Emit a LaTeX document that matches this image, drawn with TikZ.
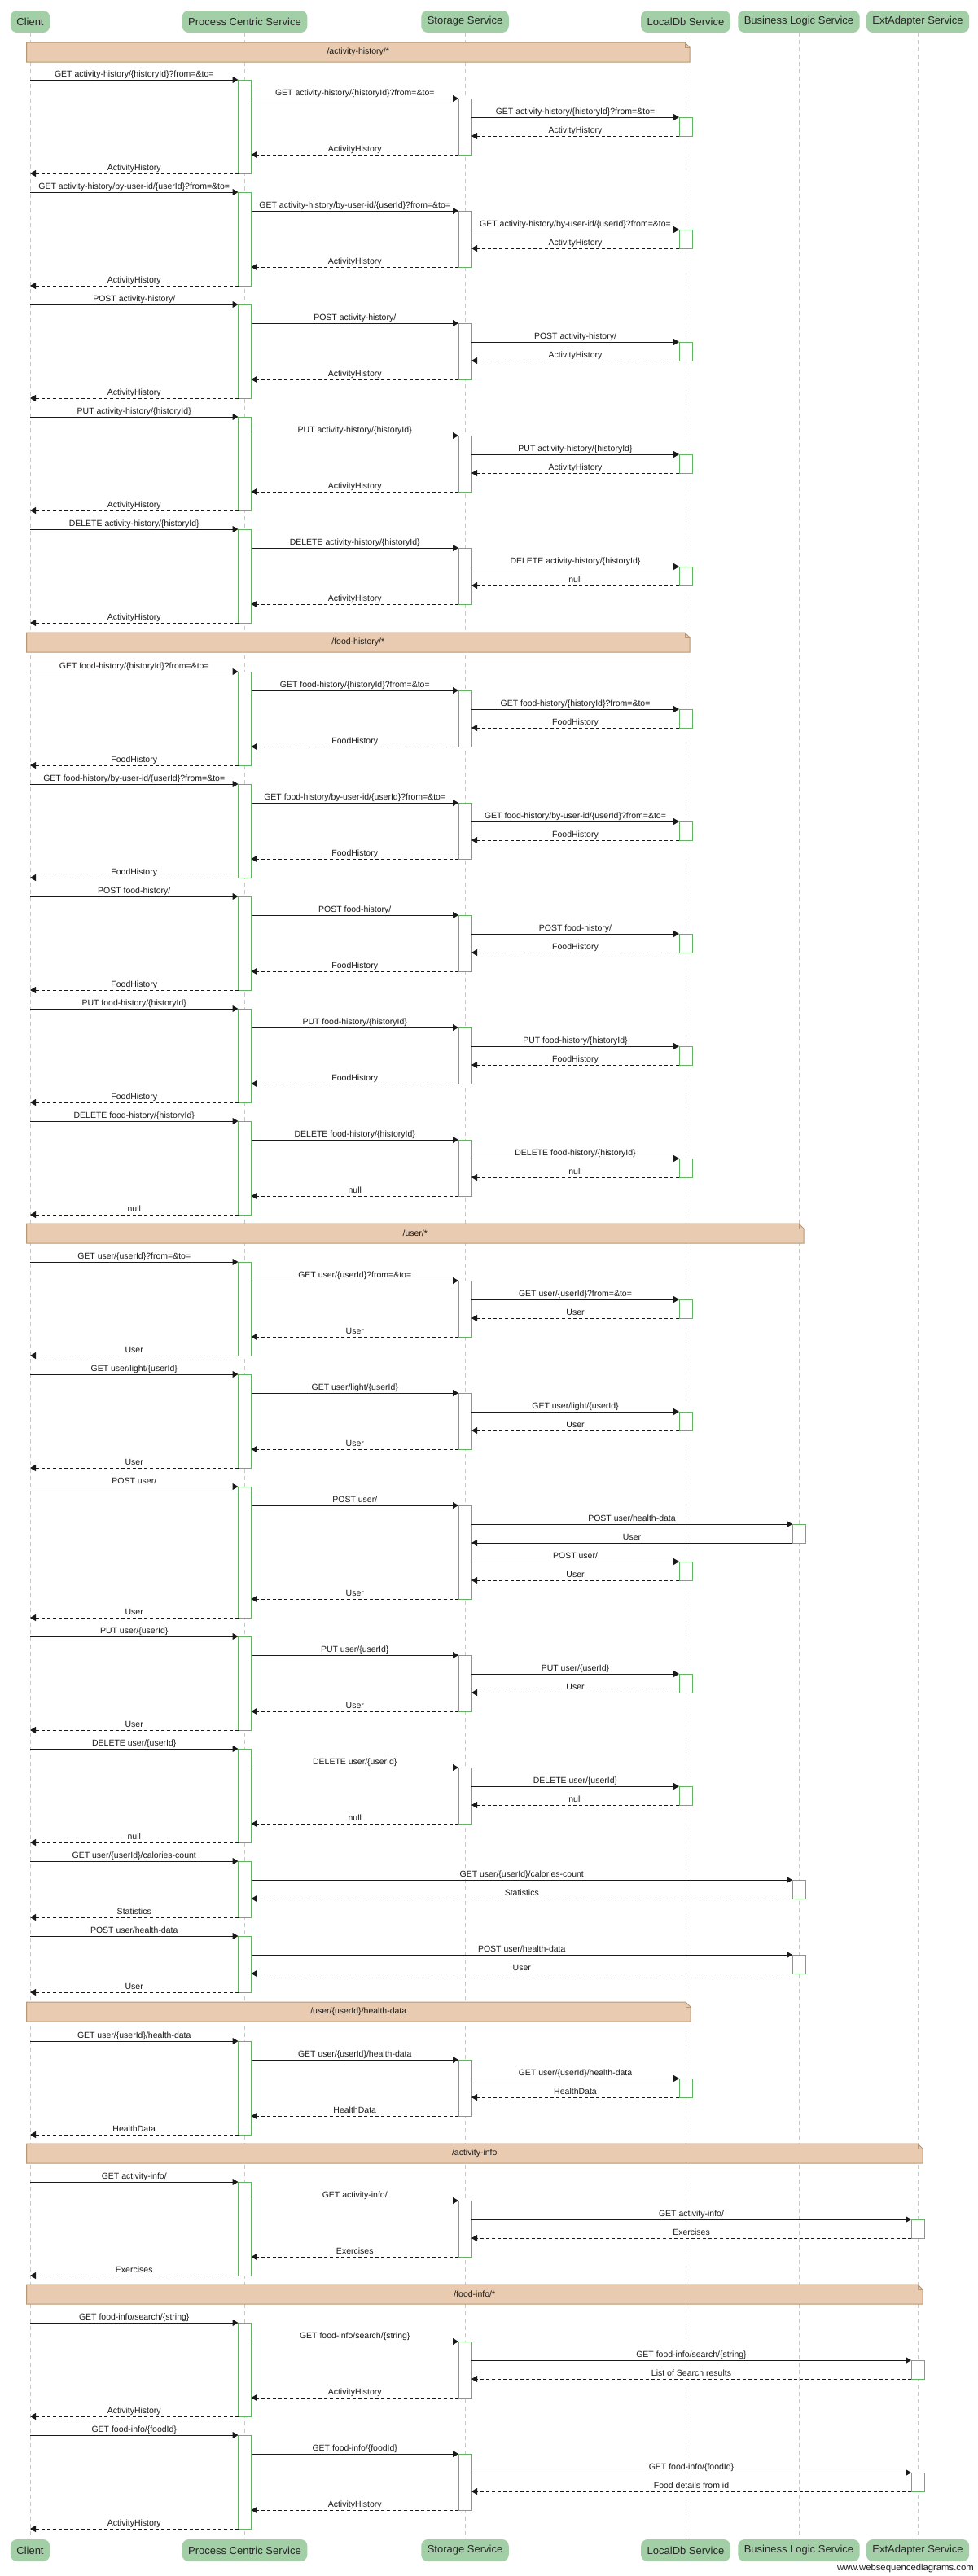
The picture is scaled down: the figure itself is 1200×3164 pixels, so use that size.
\documentclass[tikz,border=0pt]{standalone}
\usepackage{fontspec}
\setmainfont{Liberation Sans}
\usetikzlibrary{arrows.meta}
\definecolor{hdrfill}{RGB}{162,207,166}
\definecolor{hdrtext}{RGB}{40,40,40}
\definecolor{actgreen}{RGB}{98,180,98}
\definecolor{lifegray}{RGB}{200,200,200}
\definecolor{notefill}{RGB}{232,203,176}
\definecolor{notedraw}{RGB}{184,152,116}
\definecolor{msgcol}{RGB}{25,25,25}
\tikzset{
 hdr/.style={rounded corners=8pt, fill=hdrfill, minimum height=27pt, inner xsep=7.5pt, inner ysep=0pt, font=\fontsize{13pt}{15pt}\selectfont, text=hdrtext},
 lifeline/.style={draw=lifegray, line width=0.8pt, dash pattern=on 5pt off 4pt},
 actbox/.style={draw=actgreen, fill=white, line width=1pt, minimum width=16pt, inner sep=0pt, outer sep=0pt},
 callarrow/.style={draw=msgcol, line width=1pt, -{Triangle[length=7pt,width=8pt]}},
 retarrow/.style={draw=msgcol, line width=1pt, dash pattern=on 4pt off 3pt, -{Triangle[length=7pt,width=8pt]}},
 msglabel/.style={font=\fontsize{10.5pt}{12pt}\selectfont, text=msgcol, inner sep=0pt, anchor=base, yshift=3.5pt},
 noteshape/.style={fill=notefill, draw=notedraw, line width=1pt},
 notelabel/.style={font=\fontsize{10.5pt}{12pt}\selectfont, text=msgcol, inner sep=0pt},
}
\def\xC{37}
\def\xP{300.5}
\def\xS{571}
\def\xL{842}
\def\xB{981}
\def\xE{1127}
% activation box: name, x, ytop, ybottom
\newcommand{\actv}[4]{\node[actbox, anchor=north, minimum height={((#4)-(#3))*1pt}] (#1) at (#2,#3) {};}
% call: name, x1, x2, y, label
\newcommand{\msgc}[5]{\coordinate (#1a) at (#2,#4); \coordinate (#1b) at (#3,#4);
 \draw[callarrow] (#1a) -- (#1b) node[midway, msglabel] {#5};}
% return: name, x1, x2, y, label
\newcommand{\msgr}[5]{\coordinate (#1a) at (#2,#4); \coordinate (#1b) at (#3,#4);
 \draw[retarrow] (#1a) -- (#1b) node[midway, msglabel] {#5};}
% standard block: id, y0, x of third lifeline, 3 call labels, 3 return labels
\newcommand{\stdblock}[9]{%
 \actv{#1P}{\xP}{#2}{#2+115}
 \actv{#1S}{\xS}{#2+23}{#2+92}
 \actv{#1T}{#3}{#2+46}{#2+69}
 \msgc{#1m1}{\xC}{\xP-8}{#2}{#4}
 \msgc{#1m2}{\xP+8}{\xS-8}{#2+23}{#5}
 \msgc{#1m3}{\xS+8}{#3-8}{#2+46}{#6}
 \msgr{#1m4}{#3-8}{\xS+8}{#2+69}{#7}
 \msgr{#1m5}{\xS-8}{\xP+8}{#2+92}{#8}
 \msgr{#1m6}{\xP-8}{\xC}{#2+115}{#9}
}
% note band: name, ytop, xright, text
\newcommand{\notebar}[4]{%
 \draw[noteshape] (32.5,#2) -- (#3-6,#2) -- (#3,#2+6) -- (#3,#2+24) -- (32.5,#2+24) -- cycle;
 \draw[notedraw, line width=0.8pt] (#3-6,#2) -- (#3-6,#2+6) -- (#3,#2+6);
 \node[notelabel] (#1) at ({(32.5+#3)/2},#2+12) {#4};
}
\begin{document}
\begin{tikzpicture}[x=1pt,y=-1pt]
\useasboundingbox (0,0) rectangle (1200,3164);
\fill[white] (0,0) rectangle (1200,3164);
% headers
\node[hdr] (hC) at (\xC,26.5) {Client};
\node[hdr] (hP) at (\xP,26.5) {Process Centric Service};
\node[hdr] (hS) at (\xS,26.5) {Storage Service};
\node[hdr] (hL) at (\xL,26.5) {LocalDb Service};
\node[hdr] (hB) at (\xB,26.5) {Business Logic Service};
\node[hdr] (hE) at (\xE,26.5) {ExtAdapter Service};
\node[hdr] (fC) at (\xC,3132.5) {Client};
\node[hdr] (fP) at (\xP,3132.5) {Process Centric Service};
\node[hdr] (fS) at (\xS,3132.5) {Storage Service};
\node[hdr] (fL) at (\xL,3132.5) {LocalDb Service};
\node[hdr] (fB) at (\xB,3132.5) {Business Logic Service};
\node[hdr] (fE) at (\xE,3132.5) {ExtAdapter Service};
% lifelines
\foreach \n in {C,P,S,L,B,E} {\draw[lifeline] (h\n.south) -- (f\n.north);}
% ---------- /activity-history/* ----------
\notebar{n1}{52}{847}{/activity-history/*}
\stdblock{A1}{98}{\xL}{GET activity-history/\{historyId\}?from=\&to=}{GET activity-history/\{historyId\}?from=\&to=}{GET activity-history/\{historyId\}?from=\&to=}{ActivityHistory}{ActivityHistory}{ActivityHistory}
\stdblock{A2}{236}{\xL}{GET activity-history/by-user-id/\{userId\}?from=\&to=}{GET activity-history/by-user-id/\{userId\}?from=\&to=}{GET activity-history/by-user-id/\{userId\}?from=\&to=}{ActivityHistory}{ActivityHistory}{ActivityHistory}
\stdblock{A3}{374}{\xL}{POST activity-history/}{POST activity-history/}{POST activity-history/}{ActivityHistory}{ActivityHistory}{ActivityHistory}
\stdblock{A4}{512}{\xL}{PUT activity-history/\{historyId\}}{PUT activity-history/\{historyId\}}{PUT activity-history/\{historyId\}}{ActivityHistory}{ActivityHistory}{ActivityHistory}
\stdblock{A5}{650}{\xL}{DELETE activity-history/\{historyId\}}{DELETE activity-history/\{historyId\}}{DELETE activity-history/\{historyId\}}{null}{ActivityHistory}{ActivityHistory}
% ---------- /food-history/* ----------
\notebar{n2}{777}{847}{/food-history/*}
\stdblock{B1}{825}{\xL}{GET food-history/\{historyId\}?from=\&to=}{GET food-history/\{historyId\}?from=\&to=}{GET food-history/\{historyId\}?from=\&to=}{FoodHistory}{FoodHistory}{FoodHistory}
\stdblock{B2}{963}{\xL}{GET food-history/by-user-id/\{userId\}?from=\&to=}{GET food-history/by-user-id/\{userId\}?from=\&to=}{GET food-history/by-user-id/\{userId\}?from=\&to=}{FoodHistory}{FoodHistory}{FoodHistory}
\stdblock{B3}{1101}{\xL}{POST food-history/}{POST food-history/}{POST food-history/}{FoodHistory}{FoodHistory}{FoodHistory}
\stdblock{B4}{1239}{\xL}{PUT food-history/\{historyId\}}{PUT food-history/\{historyId\}}{PUT food-history/\{historyId\}}{FoodHistory}{FoodHistory}{FoodHistory}
\stdblock{B5}{1377}{\xL}{DELETE food-history/\{historyId\}}{DELETE food-history/\{historyId\}}{DELETE food-history/\{historyId\}}{null}{null}{null}
% ---------- /user/* ----------
\notebar{n3}{1503}{987}{/user/*}
\stdblock{C1}{1550}{\xL}{GET user/\{userId\}?from=\&to=}{GET user/\{userId\}?from=\&to=}{GET user/\{userId\}?from=\&to=}{User}{User}{User}
\stdblock{C2}{1688}{\xL}{GET user/light/\{userId\}}{GET user/light/\{userId\}}{GET user/light/\{userId\}}{User}{User}{User}
% POST user/
\actv{C3P}{\xP}{1826}{1987}
\actv{C3S}{\xS}{1849}{1964}
\actv{C3B}{\xB}{1872}{1895}
\actv{C3L}{\xL}{1918}{1941}
\msgc{C3m1}{\xC}{\xP-8}{1826}{POST user/}
\msgc{C3m2}{\xP+8}{\xS-8}{1849}{POST user/}
\msgc{C3m3}{\xS+8}{\xB-8}{1872}{POST user/health-data}
\msgc{C3m4}{\xB-8}{\xS+8}{1895}{User}
\msgc{C3m5}{\xS+8}{\xL-8}{1918}{POST user/}
\msgr{C3m6}{\xL-8}{\xS+8}{1941}{User}
\msgr{C3m7}{\xS-8}{\xP+8}{1964}{User}
\msgr{C3m8}{\xP-8}{\xC}{1987}{User}
\stdblock{C4}{2010}{\xL}{PUT user/\{userId\}}{PUT user/\{userId\}}{PUT user/\{userId\}}{User}{User}{User}
\stdblock{C5}{2148}{\xL}{DELETE user/\{userId\}}{DELETE user/\{userId\}}{DELETE user/\{userId\}}{null}{null}{null}
% calories-count
\actv{C6P}{\xP}{2286}{2355}
\actv{C6B}{\xB}{2309}{2332}
\msgc{C6m1}{\xC}{\xP-8}{2286}{GET user/\{userId\}/calories-count}
\msgc{C6m2}{\xP+8}{\xB-8}{2309}{GET user/\{userId\}/calories-count}
\msgr{C6m3}{\xB-8}{\xP+8}{2332}{Statistics}
\msgr{C6m4}{\xP-8}{\xC}{2355}{Statistics}
% POST user/health-data
\actv{C7P}{\xP}{2378}{2447}
\actv{C7B}{\xB}{2401}{2424}
\msgc{C7m1}{\xC}{\xP-8}{2378}{POST user/health-data}
\msgc{C7m2}{\xP+8}{\xB-8}{2401}{POST user/health-data}
\msgr{C7m3}{\xB-8}{\xP+8}{2424}{User}
\msgr{C7m4}{\xP-8}{\xC}{2447}{User}
% ---------- /user/{userId}/health-data ----------
\notebar{n4}{2459}{848}{/user/\{userId\}/health-data}
\stdblock{D1}{2507}{\xL}{GET user/\{userId\}/health-data}{GET user/\{userId\}/health-data}{GET user/\{userId\}/health-data}{HealthData}{HealthData}{HealthData}
% ---------- /activity-info ----------
\notebar{n5}{2633}{1133}{/activity-info}
\stdblock{E1}{2680}{\xE}{GET activity-info/}{GET activity-info/}{GET activity-info/}{Exercises}{Exercises}{Exercises}
% ---------- /food-info/* ----------
\notebar{n6}{2806}{1133}{/food-info/*}
\stdblock{F1}{2853}{\xE}{GET food-info/search/\{string\}}{GET food-info/search/\{string\}}{GET food-info/search/\{string\}}{List of Search results}{ActivityHistory}{ActivityHistory}
\stdblock{F2}{2991}{\xE}{GET food-info/\{foodId\}}{GET food-info/\{foodId\}}{GET food-info/\{foodId\}}{Food details from id}{ActivityHistory}{ActivityHistory}
% footer
\node[font=\fontsize{11.3pt}{13pt}\selectfont, text=msgcol, inner sep=0pt, anchor=base east] (wsd) at (1196,3157) {www.websequencediagrams.com};
\end{tikzpicture}
\end{document}
